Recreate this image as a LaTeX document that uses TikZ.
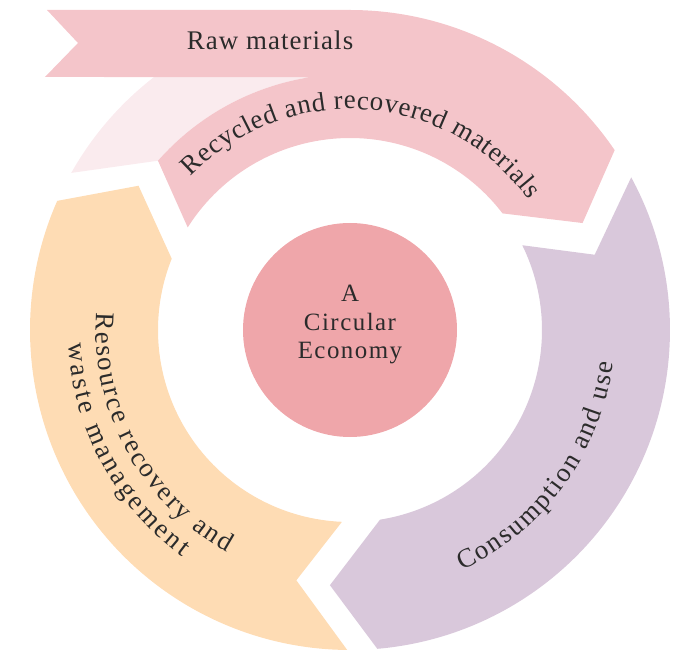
\documentclass[tikz,border=0pt]{standalone}
\usepackage{fontspec}
\setmainfont{Liberation Serif}
\usetikzlibrary{decorations.text}
\definecolor{pinkband}{HTML}{F4C5CA}
\definecolor{pinkfaint}{HTML}{FAEBEE}
\definecolor{hubcol}{HTML}{EFA6AA}
\definecolor{orangeband}{HTML}{FEDCB4}
\definecolor{purpleband}{HTML}{D9C8DB}
\definecolor{txt}{HTML}{2B2B2B}
\newcommand{\ringfont}{\fontsize{27}{32}\selectfont}
\begin{document}
\begin{tikzpicture}[x=1bp,y=1bp,
  curvetext/.style={decorate, decoration={text along path, text align={fit to path}, text={|\ringfont\color{txt}|#1}}},
  hub/.style={circle, fill=hubcol, minimum size=214bp, inner sep=0pt},
  flat/.style={text=txt, inner sep=0pt}]
\useasboundingbox (-350,-320) rectangle (334,330);
% faint tail of the top band
\fill[pinkfaint] (150.6:320) arc[start angle=150.6, end angle=90, radius=320]
  -- (90:256) arc[start angle=90, end angle=138.6, radius=256] -- cycle;
% top pink band: raw materials banner + recycled arrow
\fill[pinkband] (-303,320) -- (0,320) arc[start angle=90, end angle=34.2, radius=320]
  -- (24.7:256) -- (37.4:192) arc[start angle=37.4, end angle=147.7, radius=192]
  -- (138.6:256) arc[start angle=138.6, end angle=98.8, radius=256]
  -- (-305,253) -- (-272,287) -- cycle;
% orange arrow
\fill[orangeband] (269.5:320) arc[start angle=269.5, end angle=156.2, radius=320]
  -- (145.7:256) -- (158.2:192) arc[start angle=158.2, end angle=267.6, radius=192]
  -- (257.9:256) -- cycle;
% purple arrow
\fill[purpleband] (28.5:320) arc[start angle=28.5, end angle=-85.1, radius=320]
  -- (-94.5:256) -- (-81:192) arc[start angle=-81, end angle=26.2, radius=192]
  -- (17.1:256) -- cycle;
% centre
\node[hub] (hub) at (0,0) {};
\node[flat, align=center, font=\fontsize{25}{29}\selectfont\addfontfeature{LetterSpace=6}] (hubtext) at (0,5.5) {A\\Circular\\Economy};
% banner text
\node[flat, anchor=base, font=\ringfont\addfontfeature{LetterSpace=4}] (raw) at (-80,280) {Raw materials};
% curved texts
\path[curvetext={Recycled and recovered materials}] (136:221) arc[start angle=136, end angle=36, radius=221];
\path[curvetext={Consumption and use}] (-65:265) arc[start angle=-65, end angle=-7, radius=265];
\path[curvetext={Resource recovery and}] (176:254) arc[start angle=176, end angle=241, radius=254];
\path[curvetext={waste management}] (182.7:282) arc[start angle=182.7, end angle=233.5, radius=282];
\end{tikzpicture}
\end{document}
